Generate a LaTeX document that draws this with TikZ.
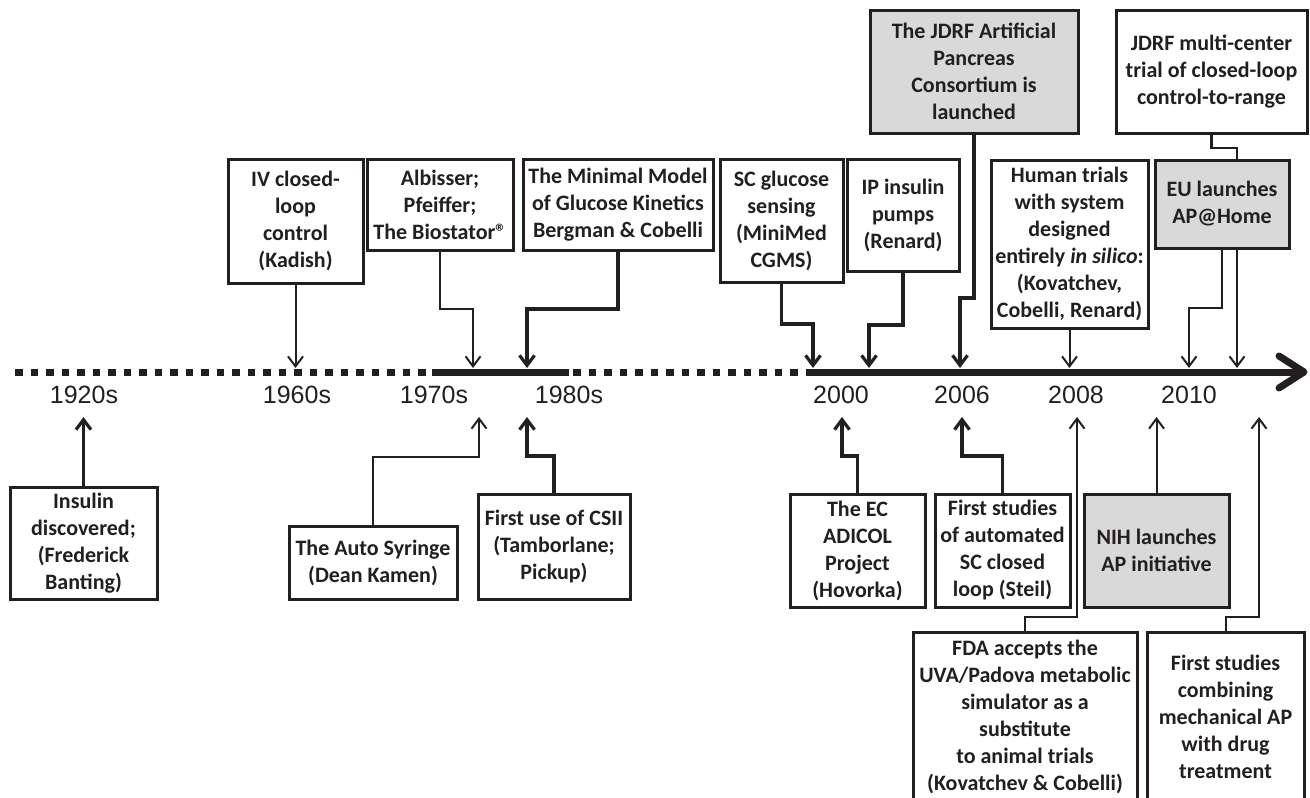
\documentclass[tikz,border=0pt]{standalone}
\usepackage{fontspec}
\setmainfont{Carlito}
\newfontfamily\yearfont{Liberation Sans}
\usetikzlibrary{arrows.meta}
\definecolor{ink}{RGB}{35,31,32}
\definecolor{boxgray}{RGB}{217,217,217}
\begin{document}
\begin{tikzpicture}[x=1pt,y=-1pt,
  box/.style={draw=ink, line width=3pt, inner sep=0pt, outer sep=0pt, align=center,
    text=ink, font=\bfseries\fontsize{22}{27}\selectfont, fill=white},
  gbox/.style={box, fill=boxgray},
  thinarr/.style={draw=ink, line width=2pt, -{Straight Barb[length=10pt,width=15pt]}},
  thickarr/.style={draw=ink, line width=3.2pt, -{Straight Barb[length=10pt,width=15pt]}},
  thinline/.style={draw=ink, line width=2.2pt},
  year/.style={text=ink, font=\yearfont\fontsize{25}{30}\selectfont, inner sep=0pt}]
\useasboundingbox (0,0) rectangle (1310,798);
\fill[white] (0,0) rectangle (1310,798);
\clip (0,0) rectangle (1310,798);

% timeline
\draw[ink, line width=7pt, dash pattern=on 7.5pt off 8pt] (15,372) -- (807,372);
\draw[ink, line width=7pt] (432,372) -- (569,372);
\draw[ink, line width=7pt] (807,372) -- (1298,372);
\draw[ink, line width=7pt, line cap=round, line join=round] (1279,356) -- (1304,372) -- (1279,388);

% year labels
\node[year] (y1920) at (84,395) {1920s};
\node[year] (y1960) at (297,395) {1960s};
\node[year] (y1970) at (434,395) {1970s};
\node[year] (y1980) at (569,395) {1980s};
\node[year] (y2000) at (841,395) {2000};
\node[year] (y2006) at (962,395) {2006};
\node[year] (y2008) at (1076,395) {2008};
\node[year] (y2010) at (1189,395) {2010};

% top boxes
\node[box, minimum width=135, minimum height=124] (iv) at (295.5,221) {IV closed-\\loop\\control\\(Kadish)};
\node[box, minimum width=146, minimum height=91] (alb) at (440,204.5) {Albisser;\\Pfeiffer;\\The Biostator®};
\node[box, minimum width=190, minimum height=91] (mm) at (618,204.5) {The Minimal Model\\of Glucose Kinetics\\Bergman \& Cobelli};
\node[box, minimum width=123, minimum height=123] (sc) at (781.5,220.5) {SC glucose\\sensing\\(MiniMed\\CGMS)};
\node[box, minimum width=112, minimum height=112] (ip) at (903,215) {IP insulin\\pumps\\(Renard)};
\node[gbox, minimum width=208, minimum height=123] (jap) at (974,71.5) {The JDRF Artificial\\Pancreas\\Consortium is\\launched};
\node[box, minimum width=157, minimum height=168] (hum) at (1069.5,244) {Human trials\\with system\\designed\\entirely \textit{in silico}:\\(Kovatchev,\\Cobelli, Renard)};
\node[box, minimum width=191, minimum height=123] (jmc) at (1211.5,71.5) {JDRF multi-center\\trial of closed-loop\\control-to-range};
\node[gbox, minimum width=134, minimum height=88] (eu) at (1222,204) {EU launches\\AP@Home};

% bottom boxes
\node[box, minimum width=147, minimum height=112] (ins) at (83.5,543) {Insulin\\discovered;\\(Frederick\\Banting)};
\node[box, minimum width=168, minimum height=73] (aut) at (373,562.5) {The Auto Syringe\\(Dean Kamen)};
\node[box, minimum width=152, minimum height=105] (csii) at (554,546.5) {First use of CSII\\(Tamborlane;\\Pickup)};
\node[box, minimum width=135, minimum height=113] (ec) at (857.5,550.5) {The EC\\ADICOL\\Project\\(Hovorka)};
\node[box, minimum width=135, minimum height=113] (fs) at (1002.5,550.5) {First studies\\of automated\\SC closed\\loop (Steil)};
\node[gbox, minimum width=145, minimum height=113] (nih) at (1156.5,550.5) {NIH launches\\AP initiative};
\node[box, minimum width=224, minimum height=170] (fda) at (1025,717) {FDA accepts the\\UVA/Padova metabolic\\simulator as a\\substitute\\to animal trials\\(Kovatchev \& Cobelli)};
\node[box, minimum width=157, minimum height=170] (comb) at (1225.5,717) {First studies\\combining\\mechanical AP\\with drug\\treatment};

% arrow tip coordinates
\coordinate (top) at (0,368);
\coordinate (bot) at (0,417);
\coordinate (tAlb) at (473,368);
\coordinate (tMm) at (527,368);
\coordinate (tSc) at (813,368);
\coordinate (tIp) at (869,368);
\coordinate (tJap) at (960,368);
\coordinate (tEu) at (1189,368);
\coordinate (tAut) at (479,417);
\coordinate (tCsii) at (527,417);
\coordinate (tEc) at (842,417);
\coordinate (tFs) at (962,417);
\coordinate (tFda) at (1077,417);
\coordinate (tComb) at (1259,417);

% top connectors
\draw[thinarr] (iv.south) -- (iv.south |- top);
\draw[thinarr] (alb.south) -- ++(0,59) -| (tAlb);
\draw[thickarr] (mm.south) -- ++(0,59) -| (tMm);
\draw[thickarr] (sc.south) -- ++(0,42) -| (tSc);
\draw[thickarr] (ip.south) -- ++(0,54) -| (tIp);
\draw[thickarr] (jap.south) -- ++(0,165) -| (tJap);
\draw[thinarr] (hum.south) -- (hum.south |- top);
\draw[thinline] (jmc.south) -- ++(0,15) -| ([xshift=15pt]eu.north);
\draw[thinarr] (eu.south) -- ++(0,60) -| (tEu);
\draw[thinarr] ([xshift=15pt]eu.south) -- ([xshift=15pt]eu.south |- top);

% bottom connectors
\draw[thickarr] (ins.north) -- (ins.north |- bot);
\draw[thinarr] (aut.north) -- ++(0,-69) -| (tAut);
\draw[thickarr] (csii.north) -- ++(0,-38) -| (tCsii);
\draw[thickarr] (ec.north) -- ++(0,-38) -| (tEc);
\draw[thickarr] (fs.north) -- ++(0,-38) -| (tFs);
\draw[thinarr] (nih.north) -- (nih.north |- bot);
\draw[thinarr] (fda.north) -- ++(0,-15) -| (tFda);
\draw[thinarr] (comb.north) -- ++(0,-15) -| (tComb);
\end{tikzpicture}
\end{document}
